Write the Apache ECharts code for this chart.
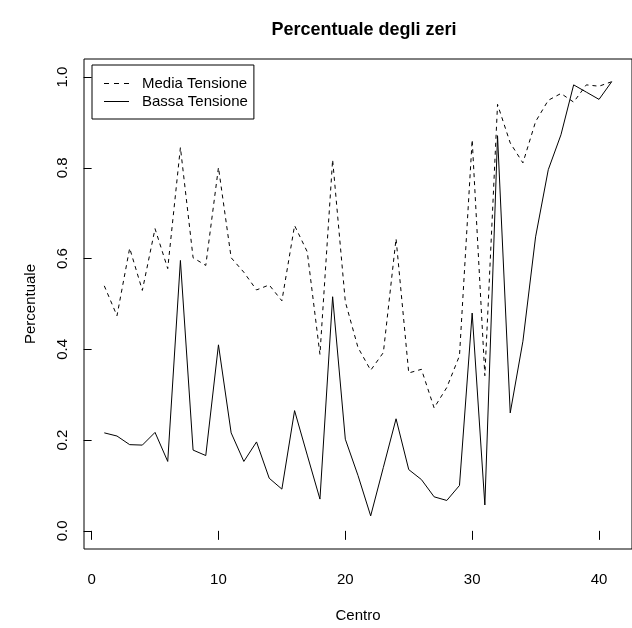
<!DOCTYPE html>
<html>
<head>
<meta charset="utf-8">
<script src="https://cdn.jsdelivr.net/npm/echarts@6/dist/echarts.min.js"></script>
<style>
  html, body { margin: 0; padding: 0; background: #fff; }
  #chart { width: 632px; height: 628px; }
</style>
</head>
<body>
<div id="chart"></div>
<script>
// Centro index along the x axis
const centro = [1, 2, 3, 4, 5, 6, 7, 8, 9, 10, 11, 12, 13, 14, 15, 16, 17, 18, 19, 20,
  21, 22, 23, 24, 25, 26, 27, 28, 29, 30, 31, 32, 33, 34, 35, 36, 37, 38, 39, 40, 41];

// Share of zero readings, medium voltage
const mediaTensione = [0.540, 0.474, 0.623, 0.530, 0.666, 0.578, 0.845, 0.602, 0.585, 0.801,
  0.602, 0.570, 0.531, 0.542, 0.507, 0.673, 0.615, 0.389, 0.818, 0.505,
  0.404, 0.354, 0.393, 0.644, 0.348, 0.356, 0.271, 0.316, 0.386, 0.862,
  0.342, 0.940, 0.855, 0.811, 0.902, 0.949, 0.964, 0.945, 0.983, 0.980, 0.990];

// Share of zero readings, low voltage
const bassaTensione = [0.216, 0.209, 0.190, 0.189, 0.217, 0.153, 0.596, 0.178, 0.166, 0.410,
  0.216, 0.153, 0.196, 0.116, 0.092, 0.265, 0.167, 0.070, 0.516, 0.202,
  0.122, 0.033, 0.140, 0.247, 0.135, 0.113, 0.075, 0.067, 0.100, 0.480,
  0.057, 0.871, 0.260, 0.418, 0.648, 0.796, 0.873, 0.983, 0.967, 0.951, 0.990];

// Tick positions
const xTicks = [0, 10, 20, 30, 40];
const yTicks = [0, 0.2, 0.4, 0.6, 0.8, 1.0];

const FONT = '"Liberation Sans", Arial, Helvetica, sans-serif';

// Legend keys: a dashed and a solid line segment
const DASHED_KEY = 'path://M0,0h5v1h-5zM10,0h5v1h-5zM20,0h5v1h-5z';
const SOLID_KEY = 'path://M0,0h25v1h-25z';

const pairs = (xs, ys) => xs.map((x, i) => [x, ys[i]]);

const chart = echarts.init(document.getElementById('chart'), null, { renderer: 'canvas' });

chart.setOption({
  animation: false,
  backgroundColor: '#fff',
  title: {
    text: 'Percentuale degli zeri',
    left: 359,
    top: 16,
    textAlign: 'center',
    textStyle: { fontFamily: FONT, fontSize: 18, fontWeight: 'bold', color: '#000' }
  },
  grid: {
    left: 84, top: 59, right: -2, bottom: 76,
    show: true, borderColor: '#000', borderWidth: 1, backgroundColor: 'transparent',
    containLabel: false
  },
  legend: {
    orient: 'vertical',
    left: 92, top: 65,
    padding: [11, 6, 10, 12],
    itemGap: 3,
    itemWidth: 25, itemHeight: 1,
    borderColor: '#000', borderWidth: 1,
    itemStyle: { color: '#000', borderWidth: 0 },
    textStyle: { fontFamily: FONT, fontSize: 15, color: '#000', padding: [0, 0, 0, 8] },
    data: [
      { name: 'Media Tensione', icon: DASHED_KEY },
      { name: 'Bassa Tensione', icon: SOLID_KEY }
    ]
  },
  xAxis: {
    type: 'value',
    min: -0.6, max: 42.6,
    name: 'Centro',
    nameLocation: 'middle',
    nameGap: 59,
    nameTextStyle: { fontFamily: FONT, fontSize: 15, color: '#000' },
    splitLine: { show: false },
    axisLine: { show: false },
    axisTick: {
      show: true, inside: false, length: 9,
      customValues: xTicks,
      lineStyle: { color: '#000', width: 1 }
    },
    axisLabel: {
      customValues: xTicks,
      margin: 23,
      fontFamily: FONT, fontSize: 15, color: '#000'
    }
  },
  yAxis: {
    type: 'value',
    min: -0.04, max: 1.04,
    name: 'Percentuale',
    nameLocation: 'middle',
    nameGap: 46,
    nameRotate: 90,
    nameTextStyle: { fontFamily: FONT, fontSize: 15, color: '#000' },
    splitLine: { show: false },
    axisLine: { show: false },
    axisTick: {
      show: true, inside: false, length: 8,
      customValues: yTicks,
      lineStyle: { color: '#000', width: 1 }
    },
    axisLabel: {
      customValues: yTicks,
      rotate: 90,
      margin: 14,
      fontFamily: FONT, fontSize: 15, color: '#000',
      formatter: v => v.toFixed(1)
    }
  },
  series: [
    {
      name: 'Media Tensione',
      type: 'line',
      data: pairs(centro, mediaTensione),
      symbol: 'none',
      color: '#000',
      lineStyle: { color: '#000', width: 1, type: [4, 4] }
    },
    {
      name: 'Bassa Tensione',
      type: 'line',
      data: pairs(centro, bassaTensione),
      symbol: 'none',
      color: '#000',
      lineStyle: { color: '#000', width: 1, type: 'solid' }
    }
  ]
});
</script>
</body>
</html>
